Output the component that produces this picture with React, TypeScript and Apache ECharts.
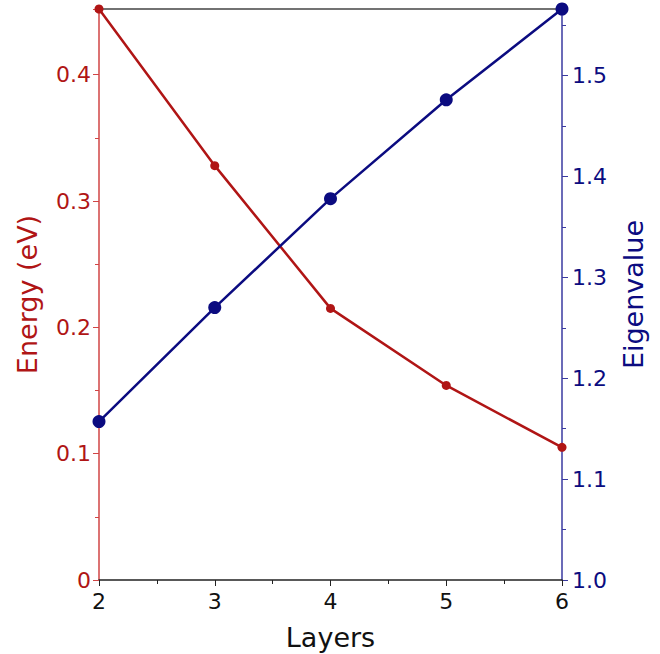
import React, { useEffect, useRef } from "react";
import * as echarts from "echarts";

const layers = [2, 3, 4, 5, 6];
const energy = [0.452, 0.328, 0.215, 0.154, 0.105];
const eigen = [1.157, 1.27, 1.378, 1.476, 1.566];

const RED = "#b01515";
const RED_AXIS = "#d04545";
const BLUE = "#0b0b80";
const BLUE_AXIS = "#3a3aa0";
const FONT = "DejaVu Sans";

export default function App() {
  const ref = useRef<HTMLDivElement>(null);
  useEffect(() => {
    if (!ref.current) return;
    const chart = echarts.init(ref.current, undefined, { renderer: "svg" });
    chart.setOption({
      animation: false,
      textStyle: { fontFamily: FONT },
      grid: { left: 99, right: 98, top: 9, bottom: 74, outerBoundsMode: "none", containLabel: false },
      xAxis: [
        {
          type: "value",
          min: 2,
          max: 6,
          interval: 1,
          name: "Layers",
          nameLocation: "middle",
          nameGap: 44,
          nameTextStyle: { fontSize: 27, color: "#111", fontFamily: FONT },
          axisLine: { lineStyle: { color: "#222", width: 1.5 } },
          axisTick: { show: true, inside: false, length: 6, lineStyle: { color: "#222" } },
          minorTick: { show: true, splitNumber: 2, length: 4, lineStyle: { color: "#222" } },
          axisLabel: { fontSize: 22, color: "#111", margin: 10, fontFamily: FONT },
          splitLine: { show: false },
        },
        {
          type: "value",
          position: "top",
          min: 2,
          max: 6,
          axisLine: { show: true, lineStyle: { color: "#444", width: 1.5 } },
          axisTick: { show: false },
          axisLabel: { show: false },
          splitLine: { show: false },
        },
      ],
      yAxis: [
        {
          type: "value",
          position: "left",
          min: 0,
          max: 0.452,
          interval: 0.1,
          name: "Energy (eV)",
          nameLocation: "middle",
          nameGap: 58,
          nameTextStyle: { fontSize: 27, color: RED, fontFamily: FONT },
          axisLine: { show: true, lineStyle: { color: RED_AXIS, width: 1.5 } },
          axisTick: { show: true, length: 6, lineStyle: { color: RED_AXIS } },
          minorTick: { show: true, splitNumber: 2, length: 4, lineStyle: { color: RED_AXIS } },
          axisLabel: {
            fontSize: 22,
            color: RED,
            margin: 8,
            fontFamily: FONT,
            formatter: (v: number) => (Math.abs(v) < 1e-9 ? "0" : String(Math.round(v * 10) / 10)),
            showMaxLabel: false,
          },
          splitLine: { show: false },
        },
        {
          type: "value",
          position: "right",
          min: 1.0,
          max: 1.566,
          interval: 0.1,
          name: "Eigenvalue",
          nameLocation: "middle",
          nameGap: 58,
          nameRotate: 90,
          nameTextStyle: { fontSize: 27, color: BLUE, fontFamily: FONT },
          axisLine: { show: true, lineStyle: { color: BLUE_AXIS, width: 1.5 } },
          axisTick: { show: true, length: 6, lineStyle: { color: BLUE_AXIS } },
          minorTick: { show: true, splitNumber: 2, length: 4, lineStyle: { color: BLUE_AXIS } },
          axisLabel: {
            fontSize: 22,
            color: BLUE,
            margin: 10,
            fontFamily: FONT,
            formatter: (v: number) => v.toFixed(1),
            showMaxLabel: false,
          },
          splitLine: { show: false },
        },
      ],
      series: [
        {
          type: "line",
          name: "Energy",
          xAxisIndex: 0,
          yAxisIndex: 0,
          data: layers.map((l, i) => [l, energy[i]]),
          symbol: "circle",
          symbolSize: 9,
          lineStyle: { color: RED, width: 2.5 },
          itemStyle: { color: RED },
          clip: false,
          z: 3,
        },
        {
          type: "line",
          name: "Eigenvalue",
          xAxisIndex: 0,
          yAxisIndex: 1,
          data: layers.map((l, i) => [l, eigen[i]]),
          symbol: "circle",
          symbolSize: 13,
          lineStyle: { color: BLUE, width: 2.5 },
          itemStyle: { color: BLUE },
          clip: false,
          z: 4,
        },
      ],
    });
    return () => chart.dispose();
  }, []);
  return (
    <div
      ref={ref}
      style={{ position: "absolute", left: 0, top: 0, width: 660, height: 654 }}
    />
  );
}
